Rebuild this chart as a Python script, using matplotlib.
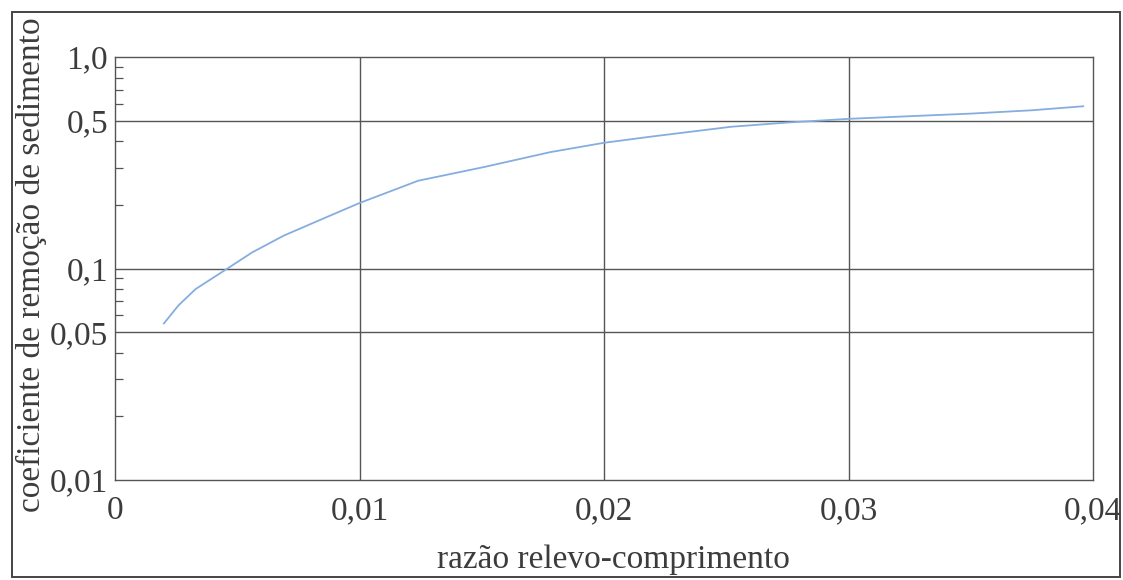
import matplotlib
matplotlib.use('Agg')
import matplotlib.pyplot as plt
from matplotlib.patches import Rectangle
from matplotlib.ticker import FixedLocator, NullFormatter
import numpy as np

# Values
razao = [0.0020, 0.0026, 0.0033, 0.0046, 0.0056, 0.0069, 0.0083, 0.0100,
         0.0124, 0.0151, 0.0178, 0.0200, 0.0219, 0.0252, 0.0275, 0.0300,
         0.0325, 0.0350, 0.0375, 0.0396]
coeficiente = [0.055, 0.067, 0.080, 0.100, 0.119, 0.143, 0.168, 0.204,
               0.260, 0.302, 0.355, 0.393, 0.420, 0.468, 0.490, 0.510,
               0.525, 0.540, 0.560, 0.585]

y_ticks = [0.01, 0.05, 0.1, 0.5, 1.0]
y_tick_labels = ['0,01', '0,05', '0,1', '0,5', '1,0']
y_minor = [0.02, 0.03, 0.04, 0.06, 0.07, 0.08, 0.09, 0.2, 0.3, 0.4,
           0.6, 0.7, 0.8, 0.9]
x_ticks = [0, 0.01, 0.02, 0.03, 0.04]
x_tick_labels = ['0', '0,01', '0,02', '0,03', '0,04']

plt.rcParams['font.family'] = ['Liberation Serif', 'DejaVu Serif']
txt = '#3c3c3c'
lc = '#555555'
fs = 24

fig = plt.figure(figsize=(11.23, 5.80), dpi=100)
ax = fig.add_axes([0.1024, 0.1724, 0.8709, 0.7293])

ax.plot(razao, coeficiente, color='#86ade0', linewidth=1.3)

ax.set_yscale('log')
ax.set_xlim(0, 0.04)
ax.set_ylim(0.01, 1.0)

ax.yaxis.set_major_locator(FixedLocator(y_ticks))
ax.set_yticklabels(y_tick_labels)
ax.yaxis.set_minor_locator(FixedLocator(y_minor))
ax.yaxis.set_minor_formatter(NullFormatter())
ax.set_xticks(x_ticks)
ax.set_xticklabels(x_tick_labels)

ax.tick_params(axis='both', which='major', length=0, labelsize=fs, colors=txt)
ax.tick_params(axis='x', which='major', pad=11)
ax.tick_params(axis='y', which='major', pad=5)
ax.tick_params(axis='y', which='minor', direction='in', length=6,
               width=0.9, color=lc)

# grid lines only at the inner major positions
for xv in x_ticks[1:-1]:
    ax.axvline(xv, color=lc, linewidth=1.0, zorder=0)
for yv in y_ticks[1:-1]:
    ax.axhline(yv, color=lc, linewidth=1.0, zorder=0)

for sp in ax.spines.values():
    sp.set_color(lc)
    sp.set_linewidth(1.0)

ax.set_xlabel('razão relevo-comprimento', fontsize=fs, color=txt)
ax.set_ylabel('coeficiente de remoção de sedimento', fontsize=fs, color=txt)
ax.xaxis.set_label_coords(0.51, -0.152)
ax.yaxis.set_label_coords(-0.070, 0.51)

# outer frame around the whole figure
fig.patches.append(Rectangle((12 / 1123, 3 / 580), 1108 / 1123, 565 / 580,
                             transform=fig.transFigure, fill=False,
                             edgecolor='#444444', linewidth=1.4))

fig.savefig('out.png', dpi=100)
